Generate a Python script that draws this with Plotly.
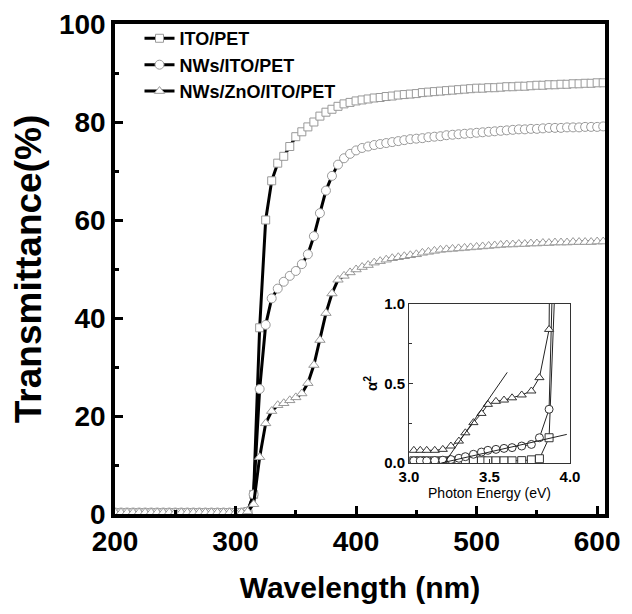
import plotly.graph_objects as go

# ---------------- data ----------------
wavelength = [200, 205, 210, 215, 220, 225, 230, 235, 240, 245, 250, 255, 260, 265, 270, 275,
              280, 285, 290, 295, 300, 305, 310, 315, 320, 325, 330, 335, 340, 345, 350, 355,
              360, 365, 370, 375, 380, 385, 390, 395, 400, 405, 410, 415, 420, 425, 430, 435,
              440, 445, 450, 455, 460, 465, 470, 475, 480, 485, 490, 495, 500, 505, 510, 515,
              520, 525, 530, 535, 540, 545, 550, 555, 560, 565, 570, 575, 580, 585, 590, 595,
              600, 605]

T_ito = [0.3] * 22 + [0.5, 4, 38, 60, 68, 71.6, 73, 75, 77, 78, 79, 80, 81.2, 82, 82.6, 83.2, 83.7,
         84.0, 84.3, 84.5, 84.7, 84.9, 85.0, 85.2, 85.3, 85.5, 85.6, 85.7, 85.8, 86.0, 86.1, 86.2,
         86.3, 86.4, 86.5, 86.6, 86.7, 86.8, 86.9, 86.9, 87.0, 87.0, 87.1, 87.2, 87.2, 87.3, 87.3,
         87.4, 87.5, 87.5, 87.6, 87.6, 87.7, 87.7, 87.8, 87.8, 87.9, 87.9, 88.0, 88.0]

T_nws = [0.3] * 22 + [0.5, 4, 25.5, 38.6, 44, 46, 47.4, 48.6, 49.6, 51, 53, 56.7, 61.4, 66, 69, 71.3, 72.6,
         73.5, 74.2, 74.7, 75.0, 75.3, 75.5, 75.7, 75.9, 76.1, 76.3, 76.5, 76.6, 76.7, 76.9, 77.0,
         77.1, 77.3, 77.4, 77.5, 77.6, 77.7, 77.8, 77.9, 78.0, 78.1, 78.2, 78.3, 78.4, 78.5, 78.5,
         78.6, 78.6, 78.7, 78.8, 78.8, 78.8, 78.9, 78.9, 78.9, 79.0, 79.0, 79.0, 79.1]

T_zno = [0.3] * 22 + [0.5, 2, 11.6, 18.5, 21, 22.2, 22.6, 23.2, 23.8, 24.6, 26.7, 30.4, 35.5, 41, 45, 47.8, 48.6,
         49.3, 49.9, 50.4, 50.8, 51.3, 51.6, 51.9, 52.2, 52.4, 52.6, 52.8, 53.0, 53.3, 53.5, 53.7,
         53.9, 54.0, 54.1, 54.2, 54.3, 54.4, 54.5, 54.6, 54.7, 54.8, 54.9, 55.0, 55.0, 55.1, 55.1,
         55.2, 55.2, 55.3, 55.3, 55.4, 55.4, 55.4, 55.5, 55.5, 55.5, 55.5, 55.6, 55.6]

series_names = ["ITO/PET", "NWs/ITO/PET", "NWs/ZnO/ITO/PET"]
series_symbols = ["square", "circle", "triangle-up"]
series_msize = [8, 9, 9]

# inset: alpha^2 vs photon energy
energy = [3.03, 3.07, 3.11, 3.16, 3.21, 3.26, 3.31, 3.35, 3.40, 3.45, 3.49, 3.54, 3.59, 3.64,
          3.70, 3.76, 3.81, 3.87, 3.94]
a2_ito = [0.014, 0.014, 0.014, 0.014, 0.014, 0.014, 0.014, 0.014, 0.014, 0.014, 0.014, 0.014,
          0.014, 0.014, 0.015, 0.02, 0.027, 0.159, 2.0]
a2_nws = [0.014, 0.014, 0.014, 0.016, 0.018, 0.022, 0.03, 0.04, 0.055, 0.069, 0.08, 0.086,
          0.092, 0.097, 0.107, 0.117, 0.159, 0.338, 3.0]
a2_zno = [0.08, 0.08, 0.08, 0.08, 0.086, 0.107, 0.138, 0.19, 0.254, 0.312, 0.369, 0.388,
          0.396, 0.41, 0.428, 0.453, 0.537, 0.84, 8.0]
fit1_e = [3.22, 3.61]
fit1_a = [0.0, 0.57]
fit2_e = [3.20, 3.98]
fit2_a = [0.0, 0.18]

assert len(wavelength) == len(T_ito) == len(T_nws) == len(T_zno)

# ---------------- figure ----------------
FONT = "Liberation Sans, Arial, sans-serif"
fig = go.Figure()

for name, sym, ms, vals in zip(series_names, series_symbols, series_msize, [T_ito, T_nws, T_zno]):
    fig.add_trace(go.Scatter(
        x=wavelength, y=vals, name=name, mode="lines+markers",
        line=dict(color="black", width=3),
        marker=dict(symbol=sym, size=ms, color="white",
                    line=dict(color="#999999", width=1)),
        xaxis="x", yaxis="y",
    ))

for sym, vals in zip(series_symbols, [a2_ito, a2_nws, a2_zno]):
    fig.add_trace(go.Scatter(
        x=energy, y=vals, mode="lines+markers", showlegend=False,
        line=dict(color="#222", width=1),
        marker=dict(symbol=sym, size=8, color="white",
                    line=dict(color="#333", width=1)),
        xaxis="x2", yaxis="y2",
    ))
for fe, fa in [(fit1_e, fit1_a), (fit2_e, fit2_a)]:
    fig.add_trace(go.Scatter(x=fe, y=fa, mode="lines", showlegend=False,
                             line=dict(color="#222", width=1), xaxis="x2", yaxis="y2"))

# the page body has an 8px margin, so the figure is sized/offset to compensate
fig.update_layout(
    width=624, height=606, autosize=False,
    margin=dict(l=107, r=27, t=16, b=100),
    plot_bgcolor="white", paper_bgcolor="white",
    font=dict(family=FONT, color="black"),
    showlegend=True,
    legend=dict(x=0.05, y=1.008, xanchor="left", yanchor="top", bgcolor="rgba(0,0,0,0)",
                font=dict(size=18, weight="bold", family=FONT), tracegroupgap=0,
                itemsizing="trace", borderwidth=0),
    xaxis=dict(domain=[0, 1], range=[200, 606.5], tickmode="array", automargin=False,
               tickvals=[200, 300, 400, 500, 600], ticks="inside", ticklen=8, tickwidth=3,
               tickcolor="black", showline=True, linewidth=3.5, linecolor="black", mirror=True,
               showgrid=False, zeroline=False,
               minor=dict(tickvals=[250, 350, 450, 550], ticks="inside", ticklen=4, tickwidth=3,
                          tickcolor="black"),
               tickfont=dict(size=28, weight="bold", family=FONT),
               title=dict(text="Wavelength (nm)", font=dict(size=30, weight="bold", family=FONT),
                          standoff=22)),
    yaxis=dict(domain=[0, 1], range=[0, 100], tickmode="array", automargin=False,
               tickvals=[0, 20, 40, 60, 80, 100], ticks="inside", ticklen=8, tickwidth=3,
               tickcolor="black", showline=True, linewidth=3.5, linecolor="black", mirror=True,
               showgrid=False, zeroline=False,
               minor=dict(tickvals=[10, 30, 50, 70, 90], ticks="inside", ticklen=4, tickwidth=3,
                          tickcolor="black"),
               tickfont=dict(size=28, weight="bold", family=FONT),
               title=dict(text="Transmittance(%)", font=dict(size=37, weight="bold", family=FONT),
                          standoff=7)),
    xaxis2=dict(domain=[0.6, 0.9286], anchor="y2", range=[3.0, 4.0], tickmode="array",
                automargin=False,
                tickvals=[3.0, 3.5, 4.0], ticktext=["3.0", "3.5", "4.0"], ticks="inside",
                ticklen=4, tickwidth=1, tickcolor="#333", showline=True, linewidth=1,
                linecolor="#333", mirror=True, showgrid=False, zeroline=False,
                tickfont=dict(size=15, weight="bold", family=FONT),
                title=dict(text="Photon Energy (eV)", font=dict(size=14, family=FONT), standoff=4)),
    yaxis2=dict(domain=[0.104, 0.4286], anchor="x2", range=[0, 1.0], tickmode="array",
                automargin=False,
                tickvals=[0.0, 0.5, 1.0], ticktext=["0.0", "0.5", "1.0"], ticks="inside",
                ticklen=4, tickwidth=1, tickcolor="#333", showline=True, linewidth=1,
                linecolor="#333", mirror=True, showgrid=False, zeroline=False,
                minor=dict(tickvals=[0.25, 0.75], ticks="inside", ticklen=3, tickwidth=1,
                           tickcolor="#333"),
                tickfont=dict(size=15, weight="bold", family=FONT),
                title=dict(text="α<sup>2</sup>", font=dict(size=15, weight="bold", family=FONT),
                           standoff=2)),
)

fig.write_html("out.html")
